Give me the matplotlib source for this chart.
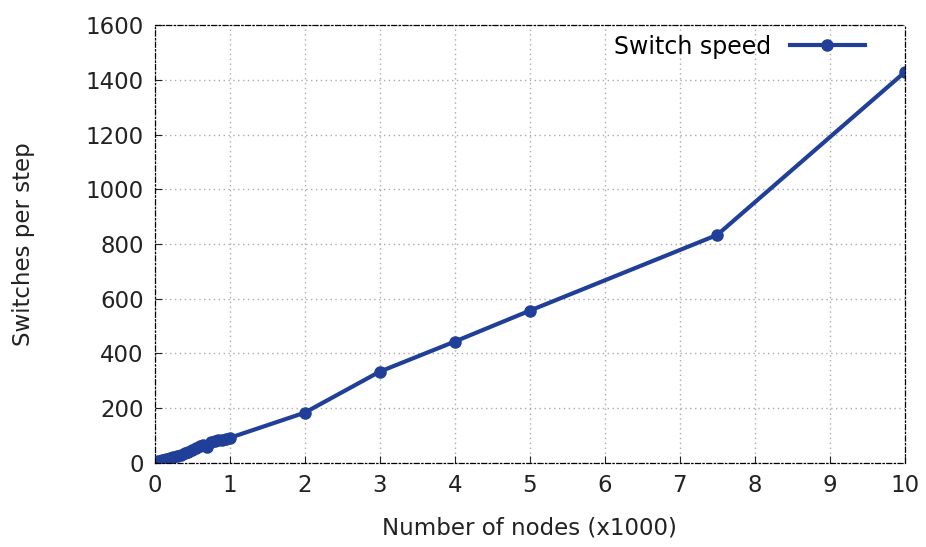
import numpy as np
from matplotlib import pyplot as plt

# Data
nodes = [0.01, 0.02, 0.05, 0.1, 0.15, 0.2, 0.25, 0.3, 0.35, 0.4, 0.45, 0.5,
         0.55, 0.6, 0.65, 0.7, 0.75, 0.8, 0.85, 0.9, 0.95, 1.0,
         2, 3, 4, 5, 7.5, 10]
speed = [1, 2, 5, 9, 13, 17, 21, 25, 30, 35, 40, 46,
         55, 62, 65, 58, 75, 80, 83, 85, 88, 91,
         183, 333, 443, 556, 833, 1428]

xticks = np.arange(0, 11, 1)
yticks = np.arange(0, 1601, 200)

plt.rcParams['font.family'] = ['DejaVu Sans']
fig = plt.figure(figsize=(9.26, 5.47), dpi=100)
ax = fig.add_axes([0.167, 0.154, 0.81, 0.8])

ax.plot(nodes, speed, color='#1f3f99', lw=3, marker='o', ms=8,
        label='Switch speed')

ax.set_xlim(0, 10)
ax.set_ylim(0, 1600)
ax.set_xticks(xticks)
ax.set_yticks(yticks)
ax.grid(True, color='#aaaaaa', linestyle=(0, (1, 2.5)), lw=1)
for s in ax.spines.values():
    s.set_linestyle((0, (4, 2, 1, 2)))
    s.set_linewidth(0.9)
ax.tick_params(direction='in', length=5, labelsize=16.5, colors='#222222', pad=8)

ax.set_xlabel('Number of nodes (x1000)', fontsize=16.5, color='#222222', labelpad=14)
ax.set_ylabel('Switches per step', fontsize=16.5, color='#222222', labelpad=36)

ax.legend(loc='upper right', frameon=False, markerfirst=False, fontsize=17,
          handlelength=3.2, borderaxespad=0.0, bbox_to_anchor=(0.96, 1.0))

fig.savefig('out.png', dpi=100)
